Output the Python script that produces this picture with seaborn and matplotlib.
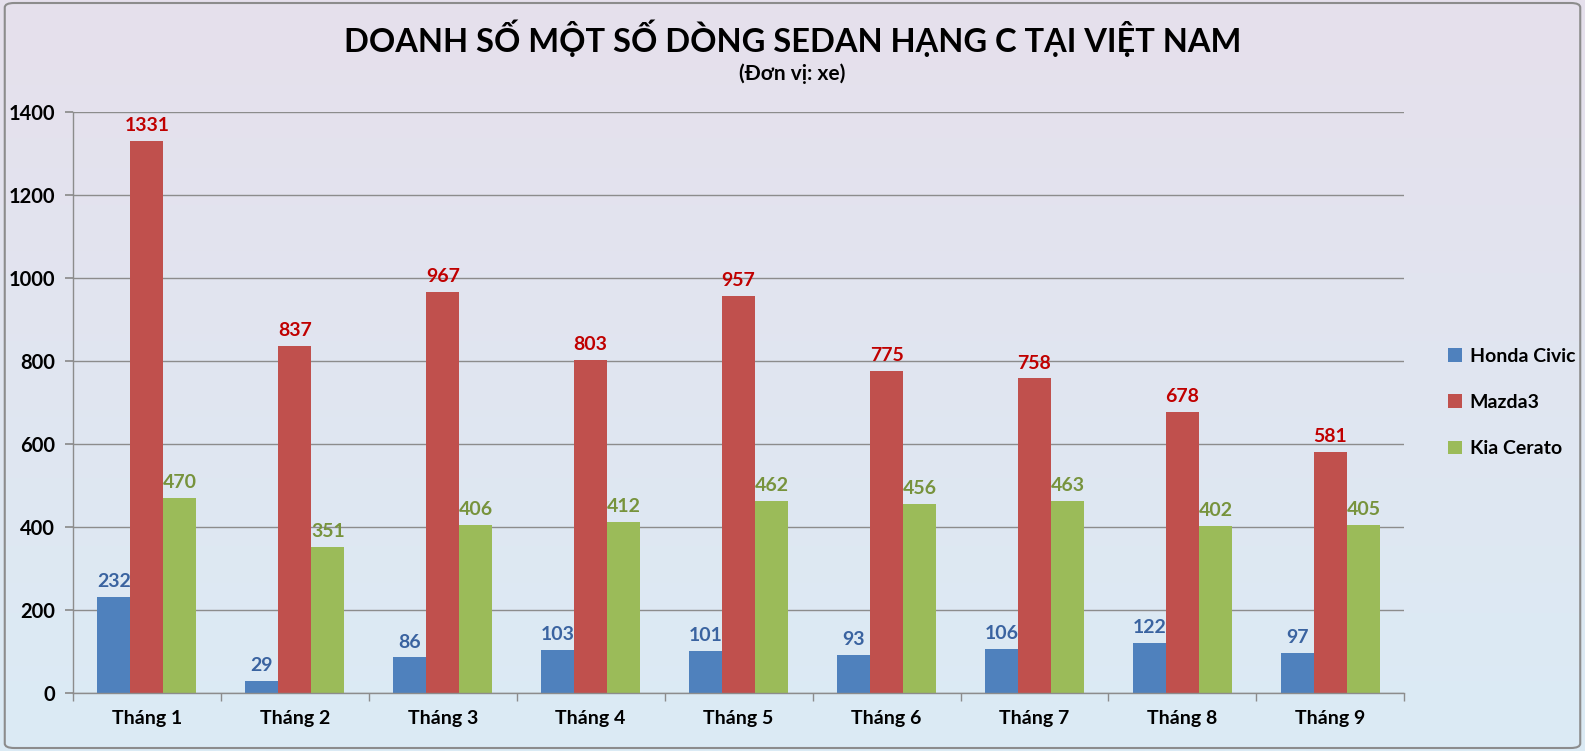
import numpy as np
import pandas as pd
import matplotlib
matplotlib.use("Agg")
import matplotlib.pyplot as plt
import seaborn as sns
from matplotlib.patches import FancyBboxPatch

months = ["Tháng 1", "Tháng 2", "Tháng 3", "Tháng 4", "Tháng 5",
          "Tháng 6", "Tháng 7", "Tháng 8", "Tháng 9"]
honda_civic = [232, 29, 86, 103, 101, 93, 106, 122, 97]
mazda3 = [1331, 837, 967, 803, 957, 775, 758, 678, 581]
kia_cerato = [470, 351, 406, 412, 462, 456, 463, 402, 405]
series_names = ["Honda Civic", "Mazda3", "Kia Cerato"]

bar_colors = ["#4F81BD", "#C0504D", "#9BBB59"]
label_colors = ["#3A63A0", "#C00000", "#77933C"]

sns.set_theme(style="white")
plt.rcParams["font.family"] = ["Lato", "DejaVu Sans"]
plt.rcParams["text.color"] = "black"
plt.rcParams["xtick.labelcolor"] = "black"
plt.rcParams["ytick.labelcolor"] = "black"

df = pd.DataFrame({
    "month": months * 3,
    "series": sum([[s] * len(months) for s in series_names], []),
    "value": honda_civic + mazda3 + kia_cerato,
})

fig = plt.figure(figsize=(15.85, 7.51), dpi=100)

# gradient background
bg = fig.add_axes([0, 0, 1, 1], zorder=-10)
top = np.array([230, 224, 236]) / 255
bot = np.array([219, 235, 245]) / 255
t = np.linspace(0, 1, 256)[:, None]
grad = top[None, :] * (1 - t) + bot[None, :] * t
bg.imshow(grad[:, None, :], aspect="auto", extent=[0, 1, 0, 1])
bg.add_patch(FancyBboxPatch((0.003, 0.004), 0.994, 0.992,
                            boxstyle="round,pad=0,rounding_size=0.006",
                            fill=False, edgecolor="#8C8C8C", linewidth=1.5,
                            transform=bg.transAxes))
bg.set_xlim(0, 1)
bg.set_ylim(0, 1)
bg.axis("off")

ax = fig.add_axes([0.046, 0.077, 0.840, 0.774])
ax.patch.set_alpha(0)
sns.barplot(data=df, x="month", y="value", hue="series", palette=bar_colors,
            width=0.67, saturation=1, linewidth=0, ax=ax, legend=True)

for cont, col in zip(ax.containers, label_colors):
    ax.bar_label(cont, padding=5, color=col, fontsize=14, fontweight="bold")

ax.set_ylim(0, 1400)
ax.set_yticks(range(0, 1401, 200))
ax.set_xlim(-0.5, len(months) - 0.5)
ax.set_xlabel("")
ax.set_ylabel("")
ax.yaxis.grid(True, color="#8C8C8C", linewidth=1)
ax.set_axisbelow(True)
for side in ["top", "right"]:
    ax.spines[side].set_visible(False)
for side in ["left", "bottom"]:
    ax.spines[side].set_color("#8C8C8C")
    ax.spines[side].set_linewidth(1)
ax.tick_params(axis="y", length=6, color="#8C8C8C", labelsize=14.5, pad=7, left=True)
ax.tick_params(axis="x", length=0, labelsize=14, pad=12)
ax.set_xticks(np.arange(-0.5, len(months)), minor=True)
ax.tick_params(axis="x", which="minor", length=6, color="#8C8C8C", bottom=True)
for lbl in ax.get_xticklabels() + ax.get_yticklabels():
    lbl.set_fontweight("bold")

leg = ax.legend(loc="center left", bbox_to_anchor=(1.02, 0.5), frameon=False,
                fontsize=14, handlelength=0.7, handleheight=0.7,
                handletextpad=0.4, labelspacing=1.5)
for txt in leg.get_texts():
    txt.set_fontweight("bold")

fig.text(0.5, 0.949, "DOANH SỐ MỘT SỐ DÒNG SEDAN HẠNG C TẠI VIỆT NAM",
         ha="center", va="center", fontsize=23.5, fontweight="bold")
fig.text(0.5, 0.902, "(Đơn vị: xe)", ha="center", va="center",
         fontsize=15, fontweight="bold")

fig.savefig("out.png", dpi=100)
